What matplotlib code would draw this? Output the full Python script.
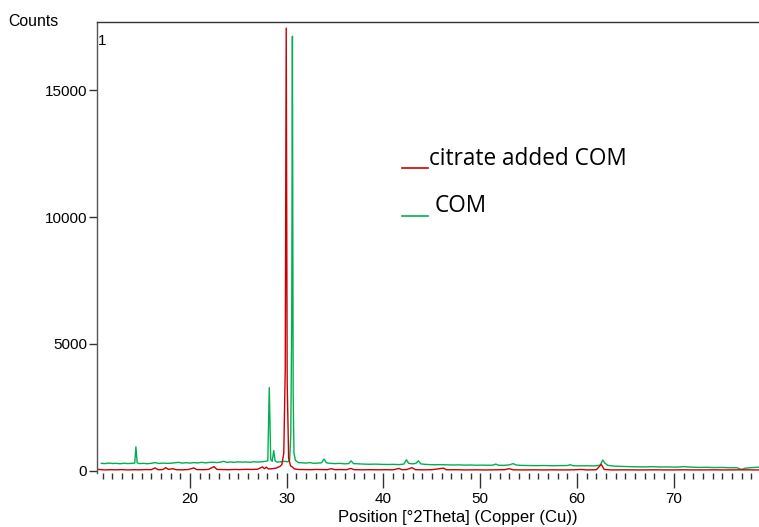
import matplotlib
matplotlib.use("Agg")
import matplotlib.pyplot as plt
from matplotlib.ticker import MultipleLocator

# ---- data ----
com_2theta = [10.85, 11.2, 11.6, 12.0, 12.4, 12.8, 13.2, 13.6, 14.0, 14.3, 14.42, 14.55, 14.8,
              15.2, 15.6, 16.0, 16.4, 16.8, 17.2, 17.6, 18.0, 18.4, 18.8, 19.2, 19.6, 20.0,
              20.4, 20.8, 21.2, 21.6, 22.0, 22.4, 22.8, 23.2, 23.5, 23.8, 24.2, 24.6, 25.0,
              25.4, 25.8, 26.2, 26.6, 27.0, 27.4, 27.8, 28.05, 28.2, 28.35, 28.5, 28.66, 28.8,
              29.0, 29.4, 29.8, 30.1, 30.3, 30.42, 30.52, 30.59, 30.67, 30.75, 30.9, 31.2,
              31.6, 32.0, 32.4, 32.8, 33.2, 33.6, 33.85, 34.1, 34.5, 35.0, 35.5, 36.0, 36.4,
              36.65, 36.9, 37.4, 38.0, 38.6, 39.2, 39.8, 40.4, 41.0, 41.6, 42.1, 42.37, 42.6,
              43.0, 43.35, 43.6, 43.85, 44.3, 44.8, 45.4, 46.0, 46.6, 47.2, 47.8, 48.4, 49.0,
              49.6, 50.2, 50.8, 51.3, 51.6, 51.9, 52.4, 53.0, 53.4, 53.7, 54.2, 55.0, 55.8,
              56.6, 57.4, 58.2, 59.0, 59.3, 59.6, 60.3, 61.0, 61.8, 62.4, 62.65, 62.9, 63.2,
              63.8, 64.6, 65.4, 66.2, 67.0, 67.8, 68.6, 69.4, 70.2, 71.0, 71.8, 72.6, 73.4,
              74.2, 75.0, 75.8, 76.5, 77.0, 77.4, 78.0, 78.8]
com_counts = [300, 290, 310, 295, 300, 285, 305, 290, 300, 310, 950, 320, 290,
              300, 285, 300, 330, 295, 310, 300, 305, 320, 340, 310, 325, 310,
              330, 315, 340, 320, 335, 345, 330, 350, 380, 340, 355, 340, 360,
              345, 355, 340, 365, 350, 360, 380, 400, 3280, 450, 380, 800, 400,
              350, 360, 380, 360, 420, 1400, 6000, 17120, 3000, 700, 420, 330,
              320, 310, 330, 300, 310, 320, 470, 320, 300, 290, 300, 280, 290,
              400, 290, 280, 270, 265, 270, 260, 255, 260, 250, 270, 440, 300,
              280, 300, 400, 280, 260, 250, 245, 250, 240, 235, 240, 230, 235,
              225, 230, 225, 230, 270, 225, 220, 240, 290, 235, 220, 215, 210,
              215, 205, 210, 215, 245, 205, 200, 205, 200, 230, 430, 300, 220,
              190, 180, 170, 165, 160, 170, 155, 160, 150, 170, 150, 140, 145,
              135, 140, 125, 130, 60, 110, 130, 150]

cit_2theta = [10.2, 10.6, 11.2, 11.8, 12.4, 13.0, 13.6, 14.2, 14.8, 15.4, 16.0, 16.4, 16.7,
              17.2, 17.5, 17.8, 18.2, 18.6, 19.2, 19.8, 20.4, 20.7, 21.3, 21.9, 22.5, 22.8,
              23.4, 24.0, 24.6, 25.2, 25.8, 26.4, 27.0, 27.5, 27.7, 27.9, 28.1, 28.5, 28.9,
              29.3, 29.5, 29.7, 29.85, 29.95, 30.05, 30.2, 30.4, 30.6, 30.8, 31.2, 31.8,
              32.4, 33.0, 33.6, 34.2, 34.6, 35.0, 35.6, 36.2, 36.6, 37.0, 37.8, 38.6, 39.4,
              40.2, 41.0, 41.6, 41.9, 42.4, 42.96, 43.3, 44.0, 45.0, 46.2, 46.5, 47.5, 48.5,
              49.5, 50.5, 51.5, 52.5, 53.0, 53.4, 54.5, 55.5, 56.5, 57.5, 58.5, 59.5, 60.5,
              61.0, 62.0, 62.5, 62.8, 63.5, 65.0, 66.5, 68.0, 69.5, 71.0, 72.5, 74.0, 75.5,
              77.0, 78.8]
cit_counts = [60, 60, 40, 50, 45, 55, 40, 50, 45, 55, 50, 120, 50,
              55, 130, 60, 90, 50, 45, 55, 120, 55, 50, 60, 170, 60,
              55, 50, 60, 55, 65, 60, 70, 160, 90, 150, 80, 90, 110,
              180, 250, 700, 4000, 17440, 3500, 500, 200, 150, 80, 60, 55,
              50, 60, 55, 50, 90, 50, 55, 50, 100, 50, 45, 50, 45,
              50, 45, 100, 50, 55, 130, 50, 45, 50, 110, 45, 50, 40,
              45, 40, 45, 50, 90, 45, 40, 45, 40, 45, 40, 45, 60,
              40, 50, 260, 60, 40, 45, 40, 45, 40, 45, 40, 45, 40,
              45, 40]

x_major = [20, 30, 40, 50, 60, 70]
y_major = [0, 5000, 10000, 15000]
legend_labels = ["citrate added COM", "COM"]

RED = "#cc0000"
GREEN = "#00b050"
W, H = 759, 527

plt.rcParams['font.family'] = ['Liberation Sans', 'DejaVu Sans']
fig = plt.figure(figsize=(W / 100, H / 100), dpi=100)
ax = fig.add_axes([97 / W, (H - 473) / H, 1 - 97 / W, (473 - 22) / H])

ax.plot(com_2theta, com_counts, color=GREEN, lw=1.0)
ax.plot(cit_2theta, cit_counts, color=RED, lw=1.0)

ax.set_xlim(10.4, 78.8)
ax.set_ylim(-80, 17680)

for s in ["bottom", "right"]:
    ax.spines[s].set_visible(False)
ax.spines["left"].set_color("#555555")
ax.spines["top"].set_color("#333333")
ax.spines["left"].set_linewidth(1.0)
ax.spines["top"].set_linewidth(1.0)

ax.set_xticks(x_major)
ax.xaxis.set_minor_locator(MultipleLocator(1))
ax.set_yticks(y_major)
ax.tick_params(axis="x", which="major", direction="out", length=11, width=1, color="#333333",
               labelsize=11, pad=3)
ax.tick_params(axis="x", which="minor", direction="out", length=4.5, width=1, color="#333333")
ax.tick_params(axis="y", which="major", direction="out", length=6, width=1, color="#333333",
               labelsize=11, pad=1)

def px(x, y):
    return x / W, (H - y) / H

fig.text(*px(457.5, 522), "Position [°2Theta] (Copper (Cu))", fontsize=12,
         ha="center", va="baseline")
fig.text(*px(8, 26), "Counts", fontsize=11.4, ha="left", va="baseline")
fig.text(*px(97.5, 45), "1", fontsize=11, ha="left", va="baseline")

# legend-like annotations
fig.add_artist(plt.Line2D([402 / W, 428 / W], [(H - 168) / H] * 2, color=RED, lw=1.2))
fig.add_artist(plt.Line2D([402 / W, 428 / W], [(H - 215.5) / H] * 2, color=GREEN, lw=1.2))
fig.text(*px(429, 165), legend_labels[0], fontsize=16.3, family=['Open Sans', 'DejaVu Sans'],
         ha="left", va="baseline")
fig.text(*px(435, 212), legend_labels[1], fontsize=16.3, family=['Open Sans', 'DejaVu Sans'],
         ha="left", va="baseline")

fig.savefig("out.png", dpi=100)
